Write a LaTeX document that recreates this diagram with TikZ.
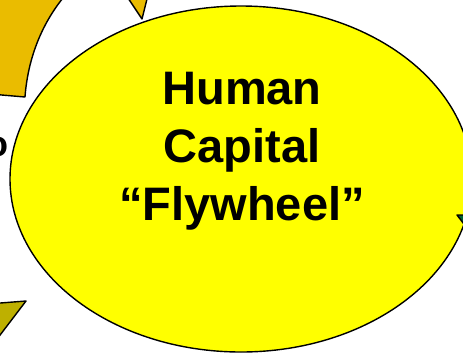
\documentclass[tikz,border=0pt]{standalone}
\usepackage{fontspec}
\usetikzlibrary{shapes.geometric}
\setmainfont{Liberation Sans}
\definecolor{goldc}{RGB}{234,188,0}
\definecolor{olivec}{RGB}{190,176,0}
\definecolor{greenc}{RGB}{0,100,50}
\definecolor{yelc}{RGB}{255,255,0}
\tikzset{
  shapeline/.style={draw=black, line width=1.4pt, line join=round},
  bigtext/.style={font=\bfseries\fontsize{47}{58}\selectfont, align=center, text=black},
}
\begin{document}
\begin{tikzpicture}[x=1pt,y=-1pt]
\useasboundingbox (0,0) rectangle (463,354);
\clip (0,0) rectangle (463,354);
% gold curved band (top left)
\filldraw[fill=goldc, shapeline] (-10,94) -- (25,97)
  .. controls (28.1,54.7) and (44.8,14.8) .. (74.8,-15.2)
  -- (-10,-15) -- cycle;
% gold arrow head (top)
\filldraw[fill=goldc, shapeline] (126,-5) -- (148,-5) -- (142,19) -- cycle;
% olive arrow head (bottom left)
\filldraw[fill=olivec, shapeline] (-6,303.5) -- (26,301) -- (-6,343) -- cycle;
% flywheel ellipse
\node[ellipse, fill=yelc, shapeline, minimum width=462pt, minimum height=346pt, inner sep=0] (wheel) at (241,179) {};
% green arrow head (right)
\filldraw[fill=greenc, shapeline] (457,215) -- (470,215) -- (470,232) -- cycle;
% text
\node[bigtext] (title) at (242,151) {Human\\Capital\\“Flywheel”};
\node[anchor=base east, inner sep=0, font=\bfseries\fontsize{36}{40}\selectfont] (cut) at (9,156) {o};
\end{tikzpicture}
\end{document}
